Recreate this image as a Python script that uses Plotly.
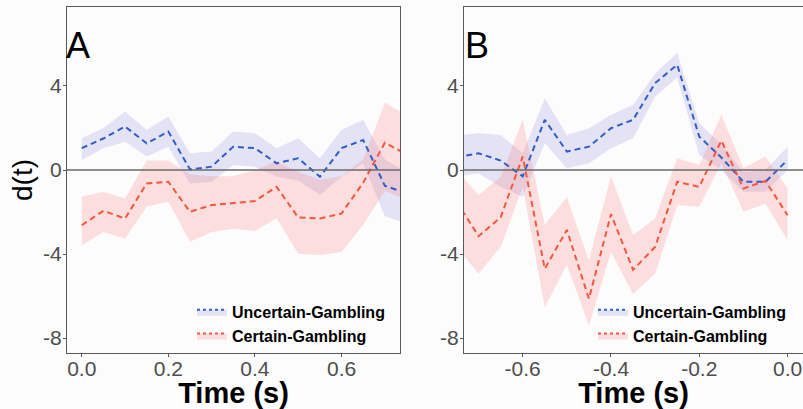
import plotly.graph_objects as go

# ---------------- data ----------------
time_A = [0.00, 0.05, 0.10, 0.15, 0.20, 0.25, 0.30, 0.35, 0.40, 0.45, 0.50, 0.55, 0.60, 0.65, 0.70, 0.75]
A_unc_mean = [1.04, 1.50, 2.07, 1.27, 1.83, 0.03, 0.16, 1.11, 1.04, 0.32, 0.56, -0.32, 1.04, 1.43, -0.75, -1.10]
A_unc_upper = [1.51, 1.99, 2.79, 1.91, 2.55, 0.80, 0.88, 1.83, 1.75, 1.04, 1.51, 0.56, 1.91, 2.39, 0.50, -0.10]
A_unc_lower = [0.48, 1.04, 1.35, 0.64, 1.11, -0.64, -0.56, 0.24, 0.16, -0.32, -0.50, -1.19, -0.32, 0.32, -2.20, -2.55]
A_cer_mean = [-2.63, -1.94, -2.31, -0.64, -0.56, -1.99, -1.67, -1.56, -1.48, -0.80, -2.26, -2.31, -2.07, -0.60, 1.30, 0.75]
A_cer_upper = [-1.27, -1.03, -1.35, 0.45, 0.45, -0.20, -0.30, -0.30, 0.00, 0.40, -0.10, -0.45, -0.30, 0.50, 3.20, 2.60]
A_cer_lower = [-3.58, -2.95, -3.26, -1.75, -1.50, -3.42, -2.95, -2.80, -2.90, -2.30, -3.98, -4.05, -3.90, -2.60, -1.00, -1.40]

time_B = [-0.75, -0.70, -0.65, -0.60, -0.55, -0.50, -0.45, -0.40, -0.35, -0.30, -0.25, -0.20, -0.15, -0.10, -0.05, 0.00]
B_unc_mean = [0.60, 0.80, 0.45, -0.30, 2.39, 0.88, 1.11, 1.99, 2.39, 4.14, 5.01, 1.59, 0.60, -0.56, -0.56, 0.48]
B_unc_upper = [1.65, 1.75, 1.67, 0.80, 3.40, 1.67, 1.99, 2.63, 3.10, 4.60, 5.57, 2.23, 1.20, -0.10, 0.00, 1.11]
B_unc_lower = [-0.32, -0.16, -0.80, -1.27, 1.27, 0.08, 0.32, 1.04, 1.51, 3.50, 4.40, 0.72, 0.00, -1.03, -1.03, 0.00]
B_cer_mean = [-1.50, -3.15, -2.25, 0.64, -4.70, -2.85, -6.13, -2.10, -4.75, -3.66, -0.56, -0.80, 1.40, -0.88, -0.52, -2.15]
B_cer_upper = [0.00, -1.20, -0.32, 2.39, -2.60, -1.30, -4.30, -0.30, -3.10, -2.31, 0.56, 0.24, 2.63, 0.08, 0.64, -0.88]
B_cer_lower = [-3.66, -4.94, -3.66, -0.80, -6.53, -4.50, -7.40, -3.90, -5.90, -4.94, -1.67, -1.75, 0.32, -1.99, -1.59, -3.34]

series_names = ["Uncertain-Gambling", "Certain-Gambling"]
x_ticks_A = [0.0, 0.2, 0.4, 0.6]
x_ticktext_A = ["0.0", "0.2", "0.4", "0.6"]
x_ticks_B = [-0.6, -0.4, -0.2, 0.0]
x_ticktext_B = ["-0.6", "-0.4", "-0.2", "0.0"]
y_ticks = [-8, -4, 0, 4]
y_ticktext = ["-8", "-4", "0", "4"]

# ---------------- styles ----------------
FONT = "Liberation Sans, Arial, sans-serif"
BLUE = "#2f5fc4"
RED = "#f4573f"
BLUE_FILL = "rgba(150,150,225,0.25)"
RED_FILL = "rgba(250,130,130,0.25)"
BG = "#fcfcfd"
BORDER = "#555b5b"

fig = go.Figure()


def add_panel(t, groups, xa, ya, legend):
    for (mean, up, lo, color, fill, name) in groups:
        fig.add_trace(go.Scatter(x=t, y=lo, mode="lines", line=dict(width=0, color=fill),
                                 hoverinfo="skip", showlegend=False, xaxis=xa, yaxis=ya,
                                 legend=legend))
        fig.add_trace(go.Scatter(x=t, y=up, mode="lines", line=dict(width=0, color=fill),
                                 fill="tonexty", fillcolor=fill, hoverinfo="skip",
                                 showlegend=False, xaxis=xa, yaxis=ya, legend=legend))
    for (mean, up, lo, color, fill, name) in groups:
        fig.add_trace(go.Scatter(x=t, y=mean, mode="lines",
                                 line=dict(color=color, width=2, dash="6px,4px"),
                                 showlegend=False, xaxis=xa, yaxis=ya, legend=legend))
    # legend entries (icon: band fill + dashed line)
    for (mean, up, lo, color, fill, name) in groups:
        fig.add_trace(go.Scatter(x=[None], y=[None], mode="lines", name=name,
                                 line=dict(color=color, width=2, dash="3px,3px"),
                                 fill="toself", fillcolor=fill,
                                 xaxis=xa, yaxis=ya, legend=legend))


add_panel(time_A,
          [(A_unc_mean, A_unc_upper, A_unc_lower, BLUE, BLUE_FILL, series_names[0]),
           (A_cer_mean, A_cer_upper, A_cer_lower, RED, RED_FILL, series_names[1])],
          "x", "y", "legend")
add_panel(time_B,
          [(B_unc_mean, B_unc_upper, B_unc_lower, BLUE, BLUE_FILL, series_names[0]),
           (B_cer_mean, B_cer_upper, B_cer_lower, RED, RED_FILL, series_names[1])],
          "x2", "y2", "legend2")

W, H = 803, 409
axis_common = dict(showgrid=False, zeroline=False, ticks="outside", ticklen=3,
                   tickcolor=BORDER, tickwidth=1, showline=True, linecolor=BORDER, linewidth=1.3,
                   tickfont=dict(family=FONT, size=21, color="#4d4d4d"))
x_title = dict(text="<b>Time (s)</b>", font=dict(family=FONT, size=29, color="black"), standoff=3)

legend_common = dict(xanchor="left", y=0.168, yanchor="top", yref="paper",
                     bgcolor="rgba(0,0,0,0)", borderwidth=0, itemwidth=30, traceorder="normal",
                     font=dict(family=FONT, size=16, color="black", weight="bold"))

fig.update_layout(
    width=W, height=H,
    margin=dict(l=0, r=0, t=7, b=56),
    paper_bgcolor=BG, plot_bgcolor=BG,
    showlegend=True,
    xaxis=dict(domain=[67 / W, 400 / W], range=[-0.034, 0.735], tickvals=x_ticks_A,
               ticktext=x_ticktext_A, mirror=True, anchor="y", ticklabelstandoff=-6,
               title=x_title, **axis_common),
    yaxis=dict(domain=[0, 1], range=[-8.71, 7.76], tickvals=y_ticks, ticktext=y_ticktext,
               mirror=True, anchor="x", ticklabelstandoff=-3,
               title=dict(text="d(t)", font=dict(family=FONT, size=28, color="black"), standoff=2),
               **axis_common),
    xaxis2=dict(domain=[464 / W, 1.0], range=[-0.733, 0.035], tickvals=x_ticks_B,
                ticktext=x_ticktext_B, mirror=True, anchor="y2", ticklabelstandoff=-6,
                title=x_title, **axis_common),
    yaxis2=dict(domain=[0, 1], range=[-8.71, 7.76], tickvals=y_ticks, ticktext=y_ticktext,
                mirror=False, anchor="x2", ticklabelstandoff=-3, **axis_common),
    legend=dict(x=192 / W, **legend_common),
    legend2=dict(x=593 / W, **legend_common),
    shapes=[
        dict(type="line", xref="x domain", yref="y", x0=0, x1=1, y0=0, y1=0,
             line=dict(color="#6a6a6a", width=1.5), layer="above"),
        dict(type="line", xref="x2 domain", yref="y2", x0=0, x1=1, y0=0, y1=0,
             line=dict(color="#6a6a6a", width=1.5), layer="above"),
    ],
    annotations=[
        dict(text="A", xref="x domain", yref="y domain", x=0, y=0.955, xanchor="left",
             yanchor="top", xshift=-3, showarrow=False,
             font=dict(family=FONT, size=36, color="black")),
        dict(text="B", xref="x2 domain", yref="y2 domain", x=0, y=0.955, xanchor="left",
             yanchor="top", xshift=-1, showarrow=False,
             font=dict(family=FONT, size=36, color="black")),
    ],
)

fig.write_html("out.html", config={"displayModeBar": False},
               post_script="document.body.style.margin='0';document.body.style.overflow='hidden';")
